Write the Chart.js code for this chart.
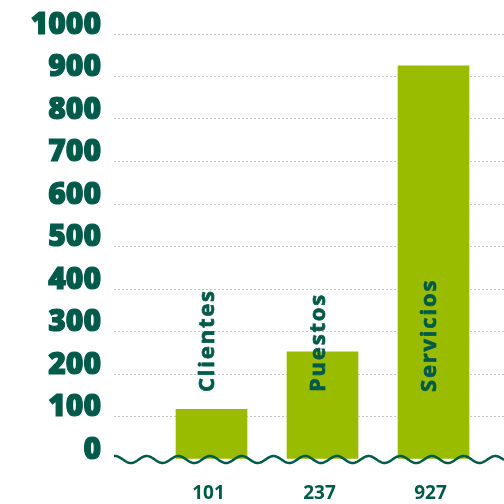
<!DOCTYPE html>
<html>
<head>
<meta charset="utf-8">
<script src="https://cdn.jsdelivr.net/npm/chart.js@4/dist/chart.umd.min.js"></script>
<style>
  html, body { margin: 0; padding: 0; background: #fff; }
  #wrap { width: 504px; height: 504px; }
</style>
</head>
<body>
<div id="wrap"><canvas id="chart"></canvas></div>
<script>
// Categories, bar heights as drawn, and the count labels under each bar.
var categories = ['Clientes', 'Puestos', 'Servicios'];
var values     = [117, 252, 925];
var counts     = ['101', '237', '927'];

var DARK  = '#005a4a';
var GREEN = '#99bc00';
var FONT  = "'Open Sans', 'Noto Sans', sans-serif";

// Wavy baseline + rotated category names.
var decorations = {
    id: 'decorations',
    afterDatasetsDraw: function (chart) {
        var ctx  = chart.ctx;
        var area = chart.chartArea;
        var xs   = chart.scales.x;
        var y0   = chart.scales.y.getPixelForValue(0);

        ctx.save();
        ctx.strokeStyle = DARK;
        ctx.lineWidth = 2.5;
        ctx.beginPath();
        for (var x = area.left; x <= area.right; x += 1) {
            var y = y0 + 0.5 - 3.5 * Math.cos(2 * Math.PI * (x - 146.7) / 31.7);
            if (x === area.left) ctx.moveTo(x, y); else ctx.lineTo(x, y);
        }
        ctx.stroke();

        ctx.fillStyle = DARK;
        ctx.lineWidth = 0.7;
        ctx.font = '700 22px ' + FONT;
        ctx.letterSpacing = '1.8px';
        ctx.textAlign = 'left';
        ctx.textBaseline = 'middle';
        categories.forEach(function (name, i) {
            var cx = xs.getPixelForValue(i + 1) - 4;
            ctx.save();
            ctx.translate(cx, y0 - 67);
            ctx.rotate(-Math.PI / 2);
            ctx.fillText(name, 0, 0);
            ctx.strokeText(name, 0, 0);
            ctx.restore();
        });
        ctx.restore();
    }
};

var points = values.map(function (v, i) { return { x: i + 1, y: v }; });

new Chart(document.getElementById('chart'), {
    type: 'bar',
    data: {
        datasets: [{
            data: points,
            backgroundColor: GREEN,
            borderWidth: 0,
            barThickness: 71
        }]
    },
    options: {
        responsive: true,
        maintainAspectRatio: false,
        animation: false,
        layout: { padding: { top: 34, right: 0, left: 0, bottom: 0 } },
        plugins: {
            legend: { display: false },
            tooltip: { enabled: false }
        },
        scales: {
            x: {
                type: 'linear',
                offset: false,
                bounds: 'data',
                min: 0.1216,
                max: 3.635,
                grid: { display: false, drawTicks: false, offset: false },
                border: { display: false },
                afterBuildTicks: function (scale) {
                    scale.ticks = categories.map(function (c, i) { return { value: i + 1 }; });
                },
                afterFit: function (scale) { scale.height = 45; },
                ticks: {
                    padding: 23,
                    labelOffset: -3,
                    color: DARK,
                    font: { family: FONT, size: 19, weight: '700' },
                    callback: function (v, i) { return counts[i]; }
                }
            },
            y: {
                min: 0,
                max: 1000,
                grid: {
                    drawTicks: false,
                    color: function (c) { return c.tick && c.tick.value === 0 ? 'rgba(0,0,0,0)' : '#c4c4c4'; },
                    lineWidth: 1
                },
                border: { display: false, dash: [2, 2] },
                afterFit: function (scale) { scale.width = 114; },
                ticks: {
                    stepSize: 100,
                    padding: 13,
                    labelOffset: -9,
                    color: DARK,
                    textStrokeColor: DARK,
                    textStrokeWidth: 1.2,
                    font: { family: FONT, size: 30, weight: '800' },
                    callback: function (v) { return String(v); }
                }
            }
        }
    },
    plugins: [decorations]
});
</script>
</body>
</html>
